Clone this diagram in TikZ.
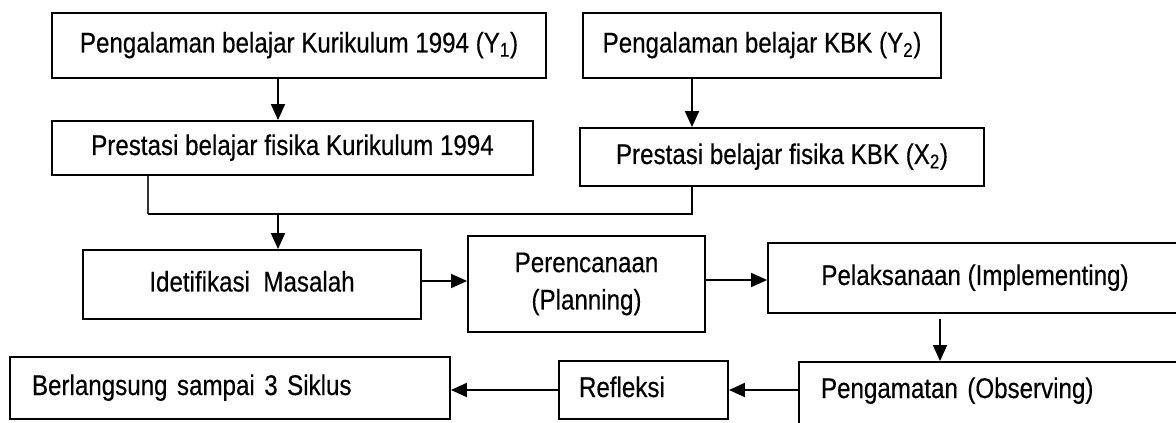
\documentclass[tikz,border=0pt]{standalone}
\usepackage{fontspec}
\setmainfont{Liberation Sans}[FakeStretch=0.85,FakeBold=0.35]
\usetikzlibrary{arrows.meta}
\begin{document}
\begin{tikzpicture}[x=0.75pt,y=-0.75pt,
  box/.style={draw, line width=1.4pt, rectangle, inner sep=0pt,
    font=\fontsize{21.3pt}{28pt}\selectfont},
  tb/.style={text height=15pt, text depth=4.5pt},
  arr/.style={line width=1.4pt, -{Triangle[length=12pt,width=10.5pt]}},
  link/.style={line width=1.4pt},
  thin link/.style={line width=0.9pt, black!80}]
\useasboundingbox (0,0) rectangle (1176,423);
\clip (0,0) rectangle (1176,423);

\node[box, tb, minimum width=370.5pt, minimum height=48.75pt] (y1) at (299,45.5)
  {Pengalaman belajar Kurikulum 1994 (Y\textsubscript{1})};
\node[box, tb, minimum width=360.75pt, minimum height=40.5pt] (p1) at (292.5,148)
  {Prestasi belajar fisika Kurikulum 1994};
\node[box, tb, minimum width=268.5pt, minimum height=48.75pt] (y2) at (762,45.5)
  {Pengalaman belajar KBK (Y\textsubscript{2})};
\node[box, tb, minimum width=303pt, minimum height=43.5pt] (p2) at (782,157)
  {Prestasi belajar fisika KBK (X\textsubscript{2})};

\node[box, tb, minimum width=253.5pt, minimum height=51.75pt] (idt) at (252,284.5)
  {Idetifikasi\ \ Masalah};
\node[box, align=center, minimum width=177.75pt, minimum height=72pt] (per) at (586.5,284)
  {Perencanaan\\(Planning)};
\node[box, tb, minimum width=310.5pt, minimum height=52.5pt] (pel) at (975,278)
  {Pelaksanaan (Implementing)};

\node[box, text height=15pt, text depth=12pt, align=left, text width=256.5pt,
  inner xsep=16.5pt, minimum height=51pt] (obs) at (992,396)
  {Pengamatan (Observing)};
\node[box, tb, align=left, text width=96.75pt, inner xsep=15pt, minimum height=43.5pt]
  (ref) at (643.5,390) {Refleksi};
\node[box, tb, align=left, text width=297pt, inner xsep=16.5pt, minimum height=46.5pt]
  (ber) at (230,388) {Berlangsung sampai 3 Siklus};

\coordinate (c1) at (278,0);
\coordinate (c2) at (692,0);
\coordinate (jl) at (148,214);
\coordinate (jr) at (692,214);
\coordinate (jm) at (278,214);
\coordinate (r3a) at (0,281);
\coordinate (r3b) at (0,280);
\coordinate (c3) at (940,0);
\coordinate (r4) at (0,390);

\draw[arr] (y1.south -| c1) -- (p1.north -| c1);
\draw[arr] (y2.south -| c2) -- (p2.north -| c2);
\draw[thin link] (p1.south -| jl) -- (jl);
\draw[link] (jl) -- (jr) -- (p2.south -| jr);
\draw[arr] (jm) -- (idt.north -| jm);
\draw[arr] (idt.east |- r3a) -- (per.west |- r3a);
\draw[arr] (per.east |- r3b) -- (pel.west |- r3b);
\draw[arr, line width=1.1pt, shorten <=4pt] (pel.south -| c3) -- (obs.north -| c3);
\draw[arr] (obs.west |- r4) -- (ref.east |- r4);
\draw[arr] (ref.west |- r4) -- (ber.east |- r4);
\end{tikzpicture}
\end{document}
